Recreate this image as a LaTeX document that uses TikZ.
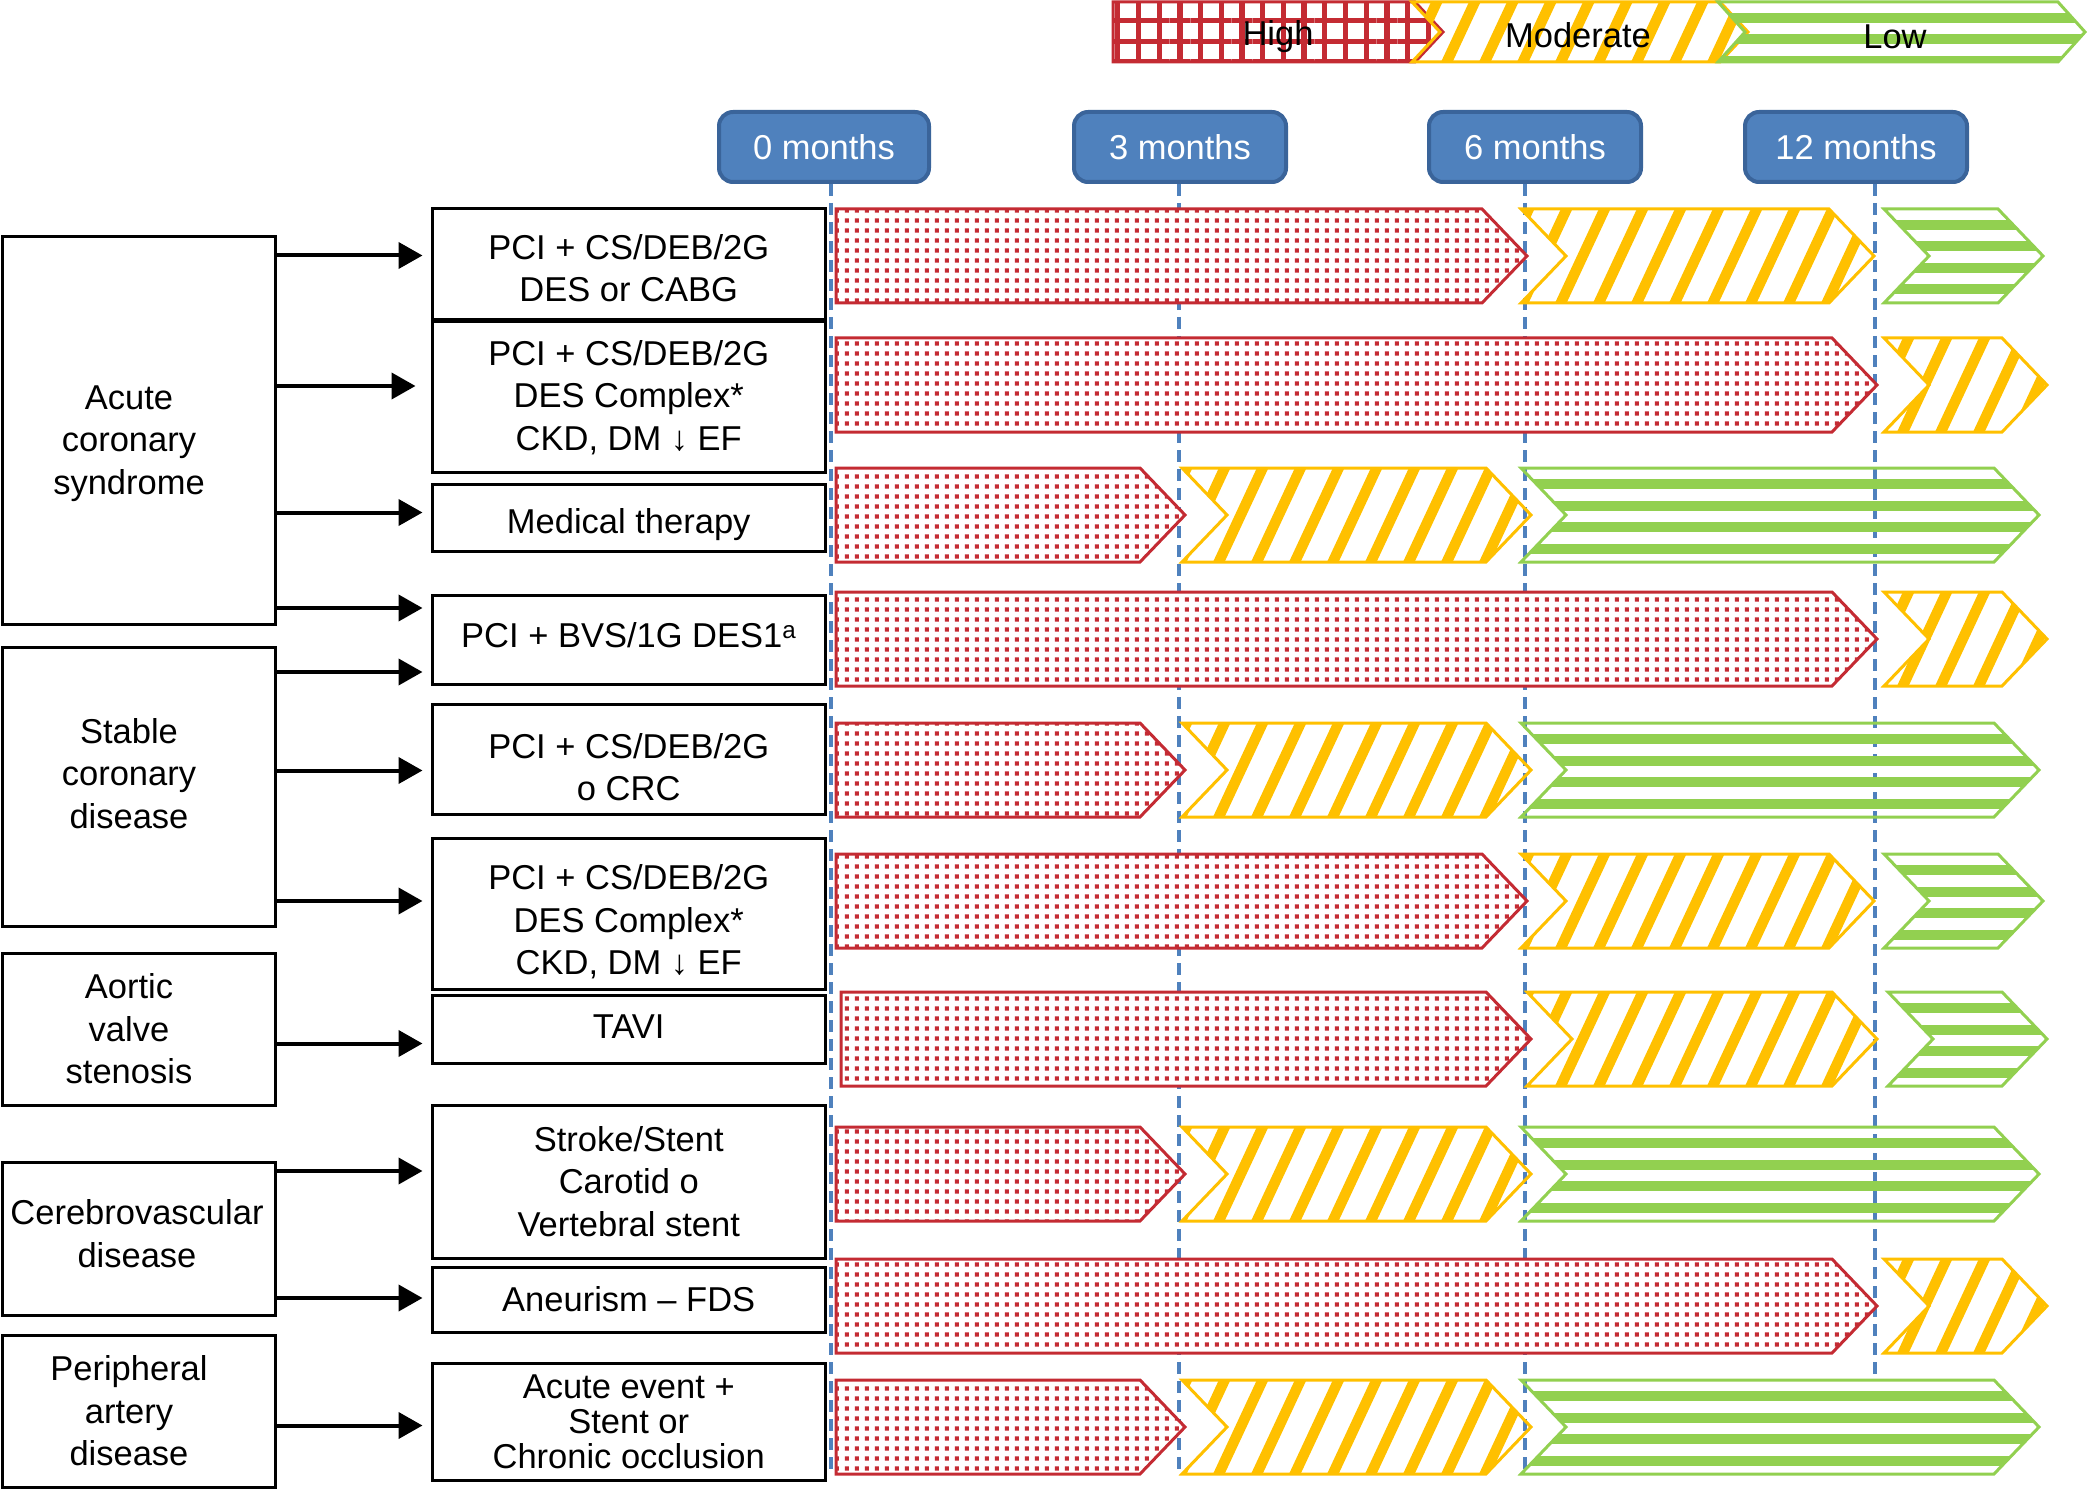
\documentclass[tikz,border=0pt]{standalone}
\usepackage{fontspec}
\setmainfont{Liberation Sans}
\usetikzlibrary{patterns.meta,arrows.meta}
\definecolor{redc}{HTML}{C42B33}
\definecolor{yellowc}{HTML}{FFC000}
\definecolor{greenc}{HTML}{92D050}
\definecolor{bluefill}{HTML}{4F81BD}
\definecolor{blueborder}{HTML}{3A649A}
\pgfdeclarepattern{name=RedSquares, type=uncolored,
  bottom left={\pgfpoint{0pt}{0pt}}, top right={\pgfpoint{10.4pt}{9.5pt}},
  tile size={\pgfpoint{10.4pt}{9.5pt}},
  code={\pgfpathrectangle{\pgfpoint{3pt}{2.6pt}}{\pgfpoint{4.3pt}{4.3pt}}\pgfusepath{fill}}}
\tikzset{
  txt/.style={font=\fontsize{34.5}{42.5}\selectfont, align=center, inner sep=0pt},
  catbox/.style={draw=black, line width=3pt, inner sep=0pt, outer sep=0pt, minimum width=273pt},
  midbox/.style={draw=black, line width=3pt, inner sep=0pt, outer sep=0pt, minimum width=392.5pt},
  monthbox/.style={txt, text=white, fill=bluefill, draw=blueborder, line width=4pt, rounded corners=14pt, minimum height=70pt, inner sep=0pt},
  dashline/.style={draw=bluefill, line width=4pt, dash pattern=on 12pt off 7pt},
  arr/.style={draw=black, line width=4pt, -{Triangle[length=24pt,width=26pt]}, shorten >=10pt},
  highbar/.style={preaction={fill=white}, pattern=RedSquares, pattern color=redc, draw=redc, line width=3pt},
  modedge/.style={draw=yellowc, line width=3pt},
  modstripe/.style={draw=yellowc, line width=10.5pt},
  lowedge/.style={draw=greenc, line width=3pt},
  lowstripe/.style={fill=greenc},
  leghigh/.style={preaction={fill=white}, pattern={Hatch[distance=20.7pt,line width=5.3pt]}, pattern color=redc, draw=redc, line width=3pt},
}
% #1 centre y, #2 start x, #3 tip x, #4 half height, #5 tip depth
\newcommand\barH[3]{\path[highbar] (#2,#1-47) -- (#3-45,#1-47) -- (#3,#1) -- (#3-45,#1+47) -- (#2,#1+47) -- cycle;}
\newcommand\barMg[5]{%
  \begin{scope}
    \clip (#2,#1-#4) -- (#3-#5,#1-#4) -- (#3,#1) -- (#3-#5,#1+#4) -- (#2,#1+#4) -- (#2+#5,#1) -- cycle;
    \pgfmathtruncatemacro\ka{(#2-80)/38}\pgfmathtruncatemacro\kb{#3/38+1}
    \foreach \k in {\ka,...,\kb} {\draw[modstripe] ({38*\k},{#1+#4+6}) -- ({38*\k+(2*#4+12)/2.1445},{#1-#4-6});}
  \end{scope}
  \path[modedge] (#2,#1-#4) -- (#3-#5,#1-#4) -- (#3,#1) -- (#3-#5,#1+#4) -- (#2,#1+#4) -- (#2+#5,#1) -- cycle;}
\newcommand\barLg[5]{%
  \begin{scope}
    \clip (#2,#1-#4) -- (#3-#5,#1-#4) -- (#3,#1) -- (#3-#5,#1+#4) -- (#2,#1+#4) -- (#2+#5,#1) -- cycle;
    \foreach \k in {0,...,5} {\path[lowstripe] (#2-5,{#1-#4+11+21.5*\k}) rectangle (#3+5,{#1-#4+21+21.5*\k});}
  \end{scope}
  \path[lowedge] (#2,#1-#4) -- (#3-#5,#1-#4) -- (#3,#1) -- (#3-#5,#1+#4) -- (#2,#1+#4) -- (#2+#5,#1) -- cycle;}
\newcommand\barM[3]{\barMg{#1}{#2}{#3}{47}{45}}
\newcommand\barL[3]{\barLg{#1}{#2}{#3}{47}{45}}
\begin{document}
\begin{tikzpicture}[x=1pt,y=-1pt]
\useasboundingbox (0,0) rectangle (2087,1511);
% legend
\path[leghigh] (1113,2) -- (1415,2) -- (1443,32) -- (1415,62) -- (1113,62) -- cycle;
\barMg{32}{1412}{1748}{30}{28}
\barLg{32}{1718}{2085}{30}{27}
\node[txt] (lgh) at (1278,37) {High};
\node[txt] (lgm) at (1578,35) {Moderate};
\node[txt] (lgl) at (1895,37) {Low};
% month boxes
\node[monthbox, minimum width=210pt] (t0) at (824,147) {0 months};
\node[monthbox, minimum width=212pt] (t3) at (1180,147) {3 months};
\node[monthbox, minimum width=212pt] (t6) at (1535,147) {6 months};
\node[monthbox, minimum width=222pt] (t12) at (1856,147) {12 months};
\coordinate (e0) at (830.5,1471);
\coordinate (e3) at (1179,1471);
\coordinate (e6) at (1525,1475);
\coordinate (e12) at (1875,1378);
\draw[dashline] (e0 |- t0.south) -- (e0);
\draw[dashline] (e3 |- t3.south) -- (e3);
\draw[dashline] (e6 |- t6.south) -- (e6);
\draw[dashline] (e12 |- t12.south) -- (e12);
% category boxes
\node[catbox, minimum height=387pt] (acs) at (139,430.5) {};
\node[catbox, minimum height=279pt] (scd) at (139,786.5) {};
\node[catbox, minimum height=152pt] (avs) at (139,1029) {};
\node[catbox, minimum height=153pt] (cvd) at (139,1238.5) {};
\node[catbox, minimum height=152pt] (pad) at (139,1411) {};
\node[txt, xshift=-10pt, yshift=-13pt] (acst) at (acs) {Acute\\coronary\\syndrome};
\node[txt, xshift=-10pt, yshift=13pt] (scdt) at (scd) {Stable\\coronary\\disease};
\node[txt, xshift=-10pt, yshift=0pt] (avst) at (avs) {Aortic\\valve\\stenosis};
\node[txt, xshift=-2pt, yshift=5pt] (cvdt) at (cvd) {Cerebrovascular\\disease};
\node[txt, xshift=-10pt, yshift=0pt] (padt) at (pad) {Peripheral\\artery\\disease};
% treatment boxes
\node[midbox, minimum height=110.5pt] (m1) at (628.75,264.25) {};
\node[midbox, minimum height=150.5pt] (m2) at (628.75,397.25) {};
\node[midbox, minimum height=66.5pt] (m3) at (628.75,517.75) {};
\node[midbox, minimum height=89pt] (m4) at (628.75,639.5) {};
\node[midbox, minimum height=110.5pt] (m5) at (628.75,759.25) {};
\node[midbox, minimum height=150.5pt] (m6) at (628.75,913.75) {};
\node[midbox, minimum height=68pt] (m7) at (628.75,1029.5) {};
\node[midbox, minimum height=153pt] (m8) at (628.75,1181.5) {};
\node[midbox, minimum height=65pt] (m9) at (628.75,1299.5) {};
\node[midbox, minimum height=117pt] (m10) at (628.75,1421.5) {};
\node[txt, yshift=-4pt] (m1t) at (m1) {PCI + CS/DEB/2G\\DES or CABG};
\node[txt] (m2t) at (m2) {PCI + CS/DEB/2G\\DES Complex*\\CKD, DM ↓ EF};
\node[txt, yshift=-7pt] (m3t) at (m3) {Medical therapy};
\node[txt, yshift=4pt] (m4t) at (m4) {PCI + BVS/1G DES1\textsuperscript{a}};
\node[txt, yshift=-8pt] (m5t) at (m5) {PCI + CS/DEB/2G\\o CRC};
\node[txt, yshift=-8pt] (m6t) at (m6) {PCI + CS/DEB/2G\\DES Complex*\\CKD, DM ↓ EF};
\node[txt, yshift=3pt] (m7t) at (m7) {TAVI};
\node[txt] (m8t) at (m8) {Stroke/Stent\\Carotid o\\Vertebral stent};
\node[txt] (m9t) at (m9) {Aneurism – FDS};
\node[txt, font=\fontsize{34.5}{35}\selectfont] (m10t) at (m10) {Acute event +\\Stent or\\Chronic occlusion};
% arrows
\draw[arr] (acs.east |- 0,255.5) -- (m1.west |- 0,255.5);
\draw[arr, shorten >=17pt] (acs.east |- 0,386) -- (m2.west |- 0,386);
\draw[arr] (acs.east |- 0,512.5) -- (m3.west |- 0,512.5);
\draw[arr] (acs.east |- 0,608) -- (m4.west |- 0,608);
\draw[arr] (scd.east |- 0,672) -- (m4.west |- 0,672);
\draw[arr] (scd.east |- 0,770.5) -- (m5.west |- 0,770.5);
\draw[arr] (scd.east |- 0,901) -- (m6.west |- 0,901);
\draw[arr] (avs.east |- 0,1043.5) -- (m7.west |- 0,1043.5);
\draw[arr] (cvd.east |- 0,1171) -- (m8.west |- 0,1171);
\draw[arr] (cvd.east |- 0,1298) -- (m9.west |- 0,1298);
\draw[arr] (pad.east |- 0,1425.5) -- (m10.west |- 0,1425.5);
% bars
\barH{256}{836}{1527} \barM{256}{1521}{1874} \barL{256}{1884}{2043}
\barH{385}{836}{1877} \barM{385}{1884}{2047}
\barH{515}{836}{1185} \barM{515}{1182}{1531} \barL{515}{1521}{2039}
\barH{639}{836}{1877} \barM{639}{1884}{2047}
\barH{770}{836}{1185} \barM{770}{1182}{1531} \barL{770}{1521}{2039}
\barH{901}{836}{1527} \barM{901}{1521}{1874} \barL{901}{1884}{2043}
\barH{1039}{841}{1531} \barM{1039}{1527}{1877} \barL{1039}{1888}{2047}
\barH{1174}{836}{1185} \barM{1174}{1182}{1531} \barL{1174}{1521}{2039}
\barH{1306}{836}{1877} \barM{1306}{1884}{2047}
\barH{1427}{836}{1185} \barM{1427}{1182}{1531} \barL{1427}{1521}{2039}
\end{tikzpicture}
\end{document}
